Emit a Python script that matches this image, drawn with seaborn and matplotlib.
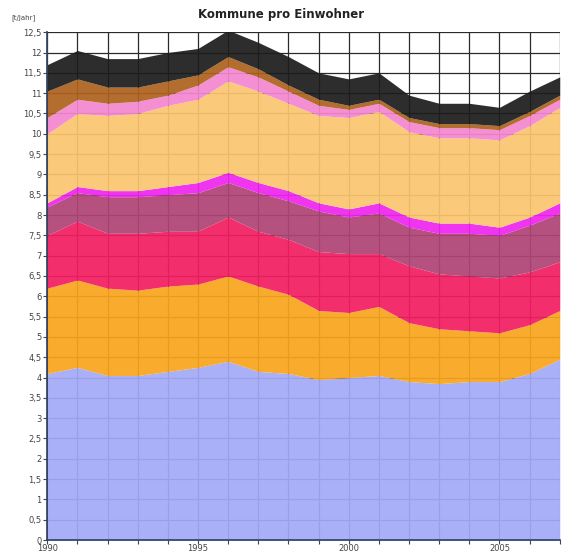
import numpy as np
import matplotlib
matplotlib.use('Agg')
import matplotlib.pyplot as plt
import matplotlib.ticker as mticker
import seaborn as sns

years = list(range(1990, 2008))

# layer thicknesses, bottom to top (t/Jahr)
blue = [4.1, 4.25, 4.05, 4.05, 4.15, 4.25, 4.4, 4.15, 4.1, 3.95, 4.0, 4.05, 3.9, 3.85, 3.9, 3.9, 4.1, 4.45]
orange = [2.1, 2.15, 2.15, 2.1, 2.1, 2.05, 2.1, 2.1, 1.95, 1.7, 1.6, 1.7, 1.45, 1.35, 1.25, 1.2, 1.2, 1.2]
red = [1.3, 1.45, 1.35, 1.4, 1.35, 1.3, 1.45, 1.35, 1.35, 1.45, 1.45, 1.3, 1.4, 1.35, 1.35, 1.35, 1.3, 1.2]
mauve = [0.7, 0.7, 0.9, 0.9, 0.9, 0.95, 0.85, 0.95, 0.95, 1.0, 0.9, 1.0, 0.95, 1.0, 1.05, 1.05, 1.15, 1.2]
magenta = [0.1, 0.15, 0.15, 0.15, 0.2, 0.25, 0.25, 0.25, 0.25, 0.2, 0.2, 0.25, 0.25, 0.25, 0.25, 0.2, 0.2, 0.25]
light_orange = [1.7, 1.8, 1.85, 1.9, 2.0, 2.05, 2.25, 2.25, 2.15, 2.15, 2.25, 2.25, 2.1, 2.1, 2.1, 2.15, 2.25, 2.35]
pink = [0.4, 0.35, 0.3, 0.3, 0.25, 0.35, 0.35, 0.35, 0.3, 0.25, 0.2, 0.2, 0.25, 0.25, 0.25, 0.25, 0.25, 0.2]
brown = [0.65, 0.5, 0.4, 0.35, 0.35, 0.25, 0.25, 0.2, 0.15, 0.15, 0.1, 0.1, 0.1, 0.1, 0.1, 0.1, 0.1, 0.1]
gray = [0.65, 0.7, 0.7, 0.7, 0.7, 0.65, 0.65, 0.65, 0.7, 0.65, 0.65, 0.65, 0.55, 0.5, 0.5, 0.45, 0.5, 0.45]

layers = [blue, orange, red, mauve, magenta, light_orange, pink, brown, gray]
target_colors = ['#aab0f8', '#f9ab2e', '#f42e6c', '#b5517f', '#ef34f0',
                 '#fbc97a', '#f58fd3', '#b46d2e', '#2d2d2d']

# areas are slightly see-through so the grid shows faintly; pre-compensate colours
alpha = 0.93
def precomp(hexcol):
    t = np.array(matplotlib.colors.to_rgb(hexcol))
    c = (t - (1 - alpha)) / alpha
    return tuple(np.clip(c, 0, 1))
colors = [precomp(c) for c in target_colors]

sns.set_theme(style='white')
plt.rcParams['font.family'] = ['DejaVu Sans']

fig = plt.figure(figsize=(5.62, 5.55), dpi=100)
ax = fig.add_axes([0.084, 0.027, 0.912, 0.915])

ax.set_axisbelow(True)
ax.grid(True, which='major', color='#2a2a2a', linewidth=0.9)
ax.stackplot(years, *layers, colors=colors, alpha=alpha, linewidth=0, zorder=2)

ax.set_xlim(1990, 2007)
ax.set_ylim(0, 12.5)
ax.yaxis.set_major_locator(mticker.MultipleLocator(0.5))
ax.xaxis.set_major_locator(mticker.MultipleLocator(1))
ax.yaxis.set_major_formatter(mticker.FuncFormatter(
    lambda v, p: ('%g' % v).replace('.', ',')))
ax.xaxis.set_major_formatter(mticker.FuncFormatter(
    lambda v, p: '%d' % v if int(round(v)) % 5 == 0 else ''))

ax.tick_params(axis='y', left=True, length=3, width=0.8, color='#444444',
               labelsize=6, labelcolor='#444444', pad=1)
ax.tick_params(axis='x', bottom=True, length=3, width=0.8, color='#444444',
               labelsize=6, labelcolor='#444444', pad=0)

for s in ['top', 'right']:
    ax.spines[s].set_visible(False)
ax.spines['left'].set_color('#334466')
ax.spines['bottom'].set_color('#334466')
ax.spines['left'].set_zorder(3)
ax.spines['bottom'].set_zorder(3)

fig.text(0.5, 0.985, 'Kommune pro Einwohner', ha='center', va='top',
         fontsize=8.5, fontweight='bold', color='#222222')
fig.text(0.02, 0.975, '[t/Jahr]', ha='left', va='top', fontsize=5,
         color='#444444')

fig.savefig('out.png', dpi=100)
